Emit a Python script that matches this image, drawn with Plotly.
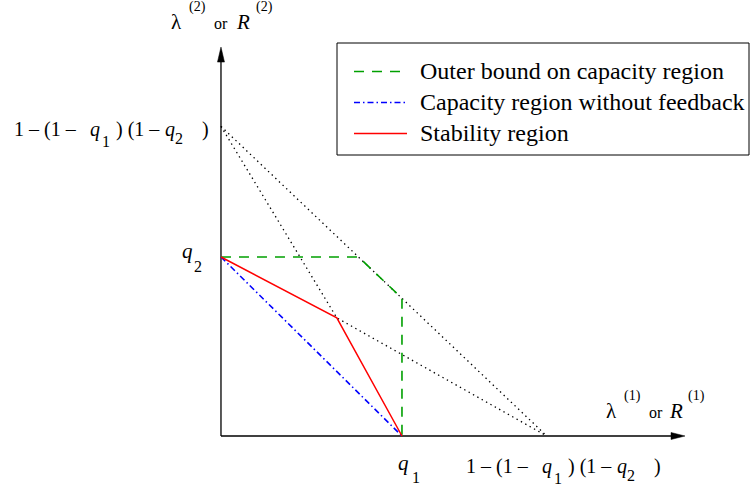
import plotly.graph_objects as go

# Schematic axis units: the q1 tick sits at 1 on the horizontal axis,
# the q2 tick at 1 on the vertical axis.
Q1_X = 1.0
Q2_Y = 1.0
SUM_X = 1.80   # 1-(1-q1)(1-q2) on the horizontal axis
SUM_Y = 1.73   # 1-(1-q1)(1-q2) on the vertical axis

# Region boundaries
outer_x = [0.0, 0.76, 1.0, 1.0]
outer_y = [1.0, 1.0, 0.77, 0.0]
nofb_x = [0.0, 1.0]
nofb_y = [1.0, 0.0]
stab_x = [0.0, 0.64, 1.0]
stab_y = [1.0, 0.66, 0.0]

# Dotted construction lines
dot1_x = [0.0, SUM_X]
dot1_y = [SUM_Y, 0.0]
dot2_x = [0.0, 0.64, SUM_X]
dot2_y = [SUM_Y, 0.66, 0.0]

# Axis extents (arrow tips)
AXIS_X_END = 2.564
AXIS_Y_END = 2.173

X_RANGE = [-1.221, 2.934]
Y_RANGE = [-0.285, 2.436]

W, H = 752, 487
FONT = "'Liberation Serif', 'Times New Roman', Times, serif"

GREEN = "#00a000"
BLUE = "#0000ff"
RED = "#ff0000"

DASH_OUTER = "10px,8px"
DASH_NOFB = "6px,3px,1.5px,3px"
DOT = "1.4px,3.6px"

fig = go.Figure()

# axes with arrow heads
px_x = (X_RANGE[1] - X_RANGE[0]) / W   # data units per pixel
px_y = (Y_RANGE[1] - Y_RANGE[0]) / H
head_len_x, head_half_x = 14 * px_x, 3.5 * px_y
head_len_y, head_half_y = 15 * px_y, 3.5 * px_x

fig.add_trace(go.Scatter(x=[0, AXIS_X_END - head_len_x], y=[0, 0], mode="lines",
                         line=dict(color="black", width=1.3), hoverinfo="skip"))
fig.add_trace(go.Scatter(x=[0, 0], y=[0, AXIS_Y_END - head_len_y], mode="lines",
                         line=dict(color="black", width=1.3), hoverinfo="skip"))
fig.add_trace(go.Scatter(
    x=[AXIS_X_END, AXIS_X_END - head_len_x, AXIS_X_END - head_len_x, AXIS_X_END],
    y=[0, head_half_x, -head_half_x, 0], mode="lines", fill="toself",
    fillcolor="black", line=dict(color="black", width=0.5), hoverinfo="skip"))
fig.add_trace(go.Scatter(
    x=[0, head_half_y, -head_half_y, 0],
    y=[AXIS_Y_END, AXIS_Y_END - head_len_y, AXIS_Y_END - head_len_y, AXIS_Y_END],
    mode="lines", fill="toself", fillcolor="black",
    line=dict(color="black", width=0.5), hoverinfo="skip"))

# dotted construction lines
for xs, ys in ((dot1_x, dot1_y), (dot2_x, dot2_y)):
    fig.add_trace(go.Scatter(x=xs, y=ys, mode="lines",
                             line=dict(color="black", width=1.3, dash=DOT),
                             hoverinfo="skip"))

# regions
fig.add_trace(go.Scatter(x=nofb_x, y=nofb_y, mode="lines", name="Capacity region without feedback",
                         line=dict(color=BLUE, width=1.6, dash=DASH_NOFB)))
fig.add_trace(go.Scatter(x=outer_x, y=outer_y, mode="lines", name="Outer bound on capacity region",
                         line=dict(color=GREEN, width=1.6, dash=DASH_OUTER)))
fig.add_trace(go.Scatter(x=stab_x, y=stab_y, mode="lines", name="Stability region",
                         line=dict(color=RED, width=1.5)))

annotations = []
shapes = []


def txt(s, px, base, size):
    """Place text with its left edge at px and its baseline at pixel row base."""
    annotations.append(dict(
        text=s, xref="paper", yref="paper", x=px / W,
        y=1 - (base - 0.3375 * size) / H, xanchor="left", yanchor="middle",
        showarrow=False, borderpad=0,
        font=dict(family=FONT, size=size, color="black")))


MAIN, SUP, SMALL = 20, 14, 16

# vertical axis title
txt("λ", 170, 29, 21)
txt("(2)", 188, 12, SUP)
txt("or", 213, 29, SMALL)
txt("<i>R</i>", 235, 29, 21)
txt("(2)", 255, 12, SUP)

# horizontal axis title
txt("λ", 605, 418, 21)
txt("(1)", 623, 401, SUP)
txt("or", 648, 418, SMALL)
txt("<i>R</i>", 668, 418, 21)
txt("(1)", 687, 401, SUP)


def sum_label(x0, base):
    txt("1 – (1 – ", x0, base, MAIN)
    txt("<i>q</i>", x0 + 76, base, MAIN)
    txt("1", x0 + 88, base + 11, SMALL)
    txt(") (1 –", x0 + 102, base, MAIN)
    txt("<i>q</i>", x0 + 151, base, MAIN)
    txt("2", x0 + 161, base + 8, SMALL)
    txt(")", x0 + 188, base, MAIN)


sum_label(13, 136)
sum_label(465, 473)

# q1 / q2 tick labels
txt("<i>q</i>", 397, 470, 21)
txt("1", 411, 483, SMALL)
txt("<i>q</i>", 181, 258, 21)
txt("2", 193, 272, SMALL)

# legend box
LEG_ROWS = [71.5, 102.5, 133.5]
LEG_TEXT = ["Outer bound on capacity region", "Capacity region without feedback", "Stability region"]
LEG_STYLE = [(GREEN, DASH_OUTER), (BLUE, DASH_NOFB), (RED, "solid")]

shapes.append(dict(type="rect", xref="paper", yref="paper",
                   x0=337 / W, x1=749 / W, y0=1 - 155 / H, y1=1 - 43 / H,
                   line=dict(color="black", width=1), fillcolor="white", layer="above"))
for row, label, (col, dash) in zip(LEG_ROWS, LEG_TEXT, LEG_STYLE):
    shapes.append(dict(type="line", xref="paper", yref="paper",
                       x0=354 / W, x1=407 / W, y0=1 - row / H, y1=1 - row / H,
                       line=dict(color=col, width=1.5, dash=dash), layer="above"))
    txt(label, 419, row + 7.5, 24)

fig.update_layout(
    width=W, height=H, autosize=False,
    margin=dict(l=0, r=0, t=0, b=0, pad=0),
    paper_bgcolor="white", plot_bgcolor="white",
    showlegend=False, hovermode=False,
    xaxis=dict(range=X_RANGE, visible=False, fixedrange=True),
    yaxis=dict(range=Y_RANGE, visible=False, fixedrange=True),
    annotations=annotations, shapes=shapes,
)

fig.write_html("out.html", config={"displayModeBar": False})
